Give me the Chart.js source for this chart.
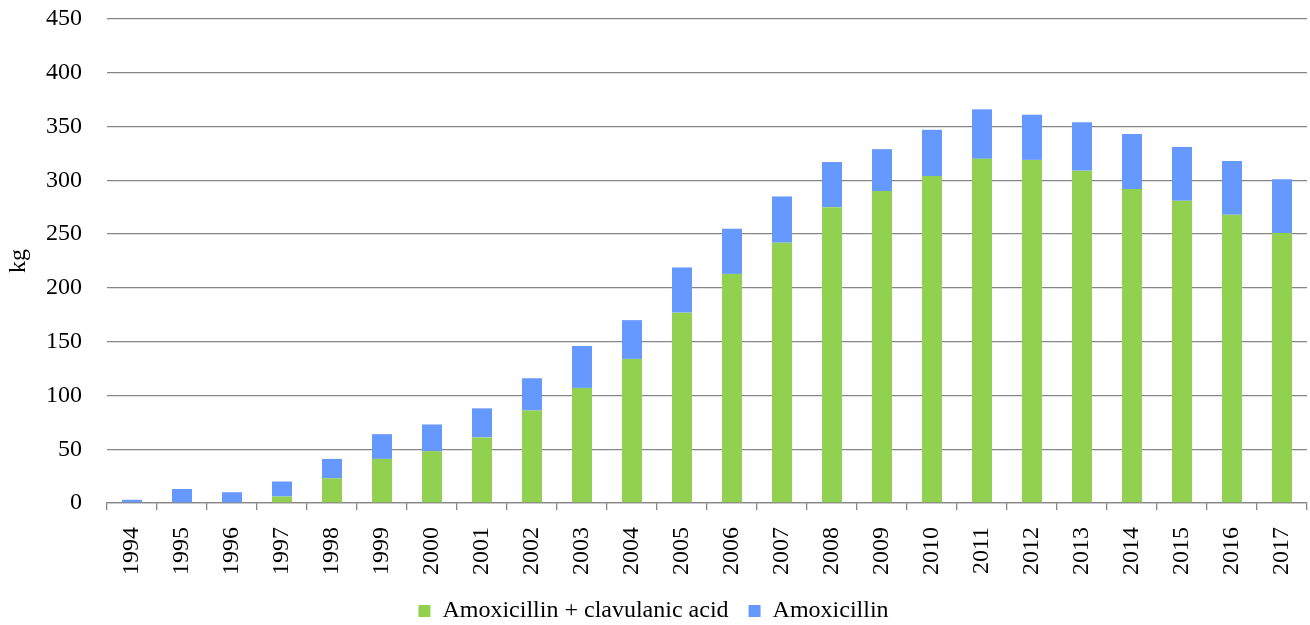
<!DOCTYPE html>
<html>
<head>
<meta charset="utf-8">
<script src="https://cdn.jsdelivr.net/npm/chart.js@4.4.1/dist/chart.umd.min.js"></script>
<style>
  html, body { margin: 0; padding: 0; background: #ffffff; }
  #wrap { width: 1310px; height: 625px; position: relative; }
</style>
</head>
<body>
<div id="wrap"><canvas id="chart" width="1310" height="625"></canvas></div>
<script>
// Annual amounts (kg) by year
const years = ['1994','1995','1996','1997','1998','1999','2000','2001','2002','2003','2004','2005',
               '2006','2007','2008','2009','2010','2011','2012','2013','2014','2015','2016','2017'];
const amoxClav = [0, 0, 0, 6, 23, 41, 48, 61, 86, 107, 134, 177,
                  213, 242, 275, 290, 304, 320, 319, 309, 292, 281, 268, 251];
const amoxOnly = [3, 13, 10, 14, 18, 23, 25, 27, 30, 39, 36, 42,
                  42, 43, 42, 39, 43, 46, 42, 45, 51, 50, 50, 50];
const yTicks = [0, 50, 100, 150, 200, 250, 300, 350, 400, 450];

const serif = '"Liberation Serif", "Times New Roman", serif';
const gridGray = '#868686';

new Chart(document.getElementById('chart'), {
  type: 'bar',
  data: {
    labels: years,
    datasets: [
      { label: 'Amoxicillin + clavulanic acid', data: amoxClav, backgroundColor: '#92D050',
        barPercentage: 0.4, categoryPercentage: 1.0 },
      { label: 'Amoxicillin', data: amoxOnly, backgroundColor: '#6699FF',
        barPercentage: 0.4, categoryPercentage: 1.0 }
    ]
  },
  options: {
    responsive: false,
    animation: false,
    devicePixelRatio: 1,
    layout: { padding: { left: 0, right: 3, top: 19, bottom: -8 } },
    plugins: {
      tooltip: { enabled: false },
      legend: {
        position: 'bottom',
        labels: {
          font: { family: serif, size: 24 },
          color: '#000000',
          boxWidth: 12,
          boxHeight: 12,
          padding: 20
        }
      }
    },
    scales: {
      x: {
        stacked: true,
        afterFit: s => { s.height = 76; s.paddingLeft = 0; s.paddingRight = 0; },
        grid: {
          offset: true,
          drawOnChartArea: false,
          drawTicks: true,
          tickLength: 7,
          color: gridGray,
          lineWidth: 1.3
        },
        border: { display: true, color: gridGray, width: 1.3 },
        ticks: {
          font: { family: serif, size: 24 },
          color: '#000000',
          minRotation: 90,
          maxRotation: 90,
          autoSkip: false,
          padding: 17
        }
      },
      y: {
        stacked: true,
        min: 0,
        max: 450,
        afterFit: s => { s.width = 107; s.paddingTop = 0; s.paddingBottom = 0; },
        afterBuildTicks: s => { s.ticks = yTicks.map(v => ({ value: v })); },
        grid: { drawTicks: false, color: gridGray, lineWidth: 1.3 },
        border: { display: false },
        ticks: {
          font: { family: serif, size: 24 },
          color: '#000000',
          padding: 25
        },
        title: {
          display: true,
          text: 'kg',
          font: { family: serif, size: 24 },
          color: '#000000',
          padding: { top: 4, bottom: 0 }
        }
      }
    }
  }
});
</script>
</body>
</html>
